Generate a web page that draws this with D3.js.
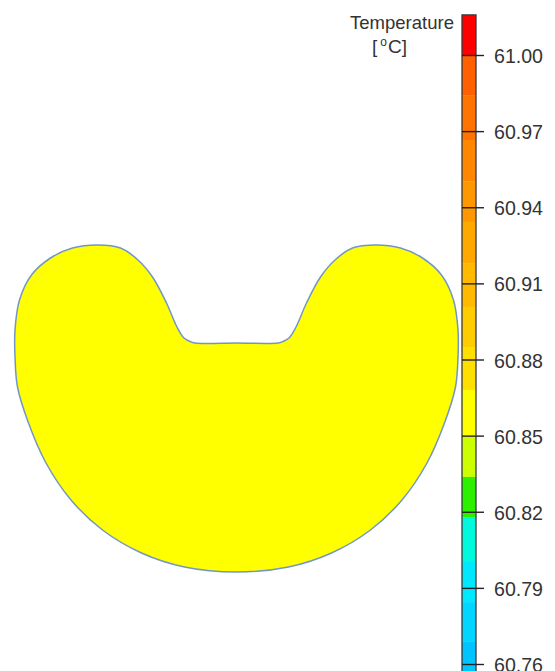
<!DOCTYPE html>
<html>
<head>
<meta charset="utf-8">
<script src="https://cdn.jsdelivr.net/npm/d3@7"></script>
<style>
  html, body { margin: 0; padding: 0; background: #ffffff; }
  svg { display: block; }
</style>
</head>
<body>
<div id="chart"></div>
<script>
// ---- Data ----
// Part outline (model units, x from centre, y up from the lowest point)
const outlineX = [0, -52, -95, -134, -165.5, -190.5, -208, -219, -221.5, -221.5, -217, -205, -186, -164, -139, -116, -98.5, -84, -70, -59.5, -52.5, -46.5, -41.5,
                  0,
                  41.5, 46.5, 52.5, 59.5, 70, 84, 98.5, 116, 139, 164, 186, 205, 217, 221.5, 221.5, 219, 208, 190.5, 165.5, 134, 95, 52];
const outlineY = [0, 5, 19, 42, 72, 109, 149, 185, 215, 242, 272, 297, 314, 324, 327, 324, 312, 295, 269, 245, 234, 230.5, 229,
                  229,
                  229, 230.5, 234, 245, 269, 295, 312, 324, 327, 324, 314, 297, 272, 242, 215, 185, 149, 109, 72, 42, 19, 5];
// Uniform temperature over the part
const partTemperature = 60.865;

// Colour legend
const legendTitle = "Temperature";
const legendUnit = ["[", "o", "C]"];
const tickValues = [61.00, 60.97, 60.94, 60.91, 60.88, 60.85, 60.82, 60.79, 60.76];
const bandEdges = [61.0158, 61.0000, 60.9842, 60.9665, 60.9503, 60.9342, 60.9180, 60.9007, 60.8849, 60.8680, 60.8495, 60.8337, 60.8179, 60.8002, 60.7844, 60.7687, 60.7529];
const bandColors = ["#ff0000", "#ff6000", "#ff7400", "#ff8600", "#ff9800", "#ffa800", "#ffba00", "#ffcc00", "#ffdf00", "#ffff00", "#ccff00", "#2cf000", "#00f8dc", "#00e8ff", "#00d6ff", "#00c4ff"];

// ---- Layout ----
const W = 555, H = 671;
const svg = d3.select("#chart").append("svg").attr("width", W).attr("height", H);

// Shape scales
const xS = d3.scaleLinear().domain([-221.5, 221.5]).range([15, 458]);
const yS = d3.scaleLinear().domain([0, 327]).range([572, 245]);

// Colour scale (banded)
const colorOf = v => {
  for (let i = 0; i < bandColors.length; i++) {
    if (v <= bandEdges[i] && v >= bandEdges[i + 1]) return bandColors[i];
  }
  return bandColors[bandColors.length - 1];
};

const pts = outlineX.map((x, i) => [x, outlineY[i]]);
const line = d3.line().x(d => xS(d[0])).y(d => yS(d[1])).curve(d3.curveCatmullRomClosed.alpha(0.5));

svg.append("path")
  .attr("d", line(pts))
  .attr("fill", colorOf(partTemperature))
  .attr("stroke", "#7396c8")
  .attr("stroke-width", 1.5);

// Colour bar
const barX = 462, barW = 14;
const vS = d3.scaleLinear().domain([61.00, 60.76]).range([55, 664]);

const bands = bandColors.map((c, i) => ({ top: bandEdges[i], bottom: bandEdges[i + 1], color: c }));
svg.append("g").selectAll("rect").data(bands).join("rect")
  .attr("x", barX)
  .attr("y", d => vS(d.top))
  .attr("width", barW)
  .attr("height", d => vS(d.bottom) - vS(d.top))
  .attr("fill", d => d.color);

svg.append("rect")
  .attr("x", barX).attr("y", vS(bandEdges[0]))
  .attr("width", barW).attr("height", vS(bandEdges[bandEdges.length - 1]) - vS(bandEdges[0]))
  .attr("fill", "none").attr("stroke", "#3a3a3a").attr("stroke-width", 1.3);

const axis = d3.axisRight(vS).tickValues(tickValues).tickFormat(d3.format(".2f")).tickSize(22).tickPadding(10);
const ag = svg.append("g").attr("transform", `translate(${barX},0)`).call(axis);
ag.select(".domain").remove();
ag.selectAll(".tick line").attr("stroke", "#222").attr("stroke-width", 1.4);
ag.selectAll(".tick text")
  .attr("fill", "#333")
  .attr("font-family", "Liberation Sans, Arial, sans-serif")
  .attr("font-size", 21)
  .attr("textLength", 49)
  .attr("lengthAdjust", "spacingAndGlyphs")
  .attr("dy", "0.36em");

// Legend title
svg.append("text")
  .attr("x", 350).attr("y", 29)
  .attr("font-family", "Liberation Sans, Arial, sans-serif")
  .attr("font-size", 19)
  .attr("fill", "#333")
  .attr("textLength", 104)
  .attr("lengthAdjust", "spacingAndGlyphs")
  .text(legendTitle);

const unit = svg.append("text")
  .attr("x", 372).attr("y", 53)
  .attr("font-family", "Liberation Sans, Arial, sans-serif")
  .attr("font-size", 19)
  .attr("fill", "#333");
unit.append("tspan").text(legendUnit[0]);
unit.append("tspan").attr("dx", 3).attr("dy", -7).attr("font-size", 12).text(legendUnit[1]);
unit.append("tspan").attr("dx", 1).attr("dy", 7).text(legendUnit[2]);
</script>
</body>
</html>
